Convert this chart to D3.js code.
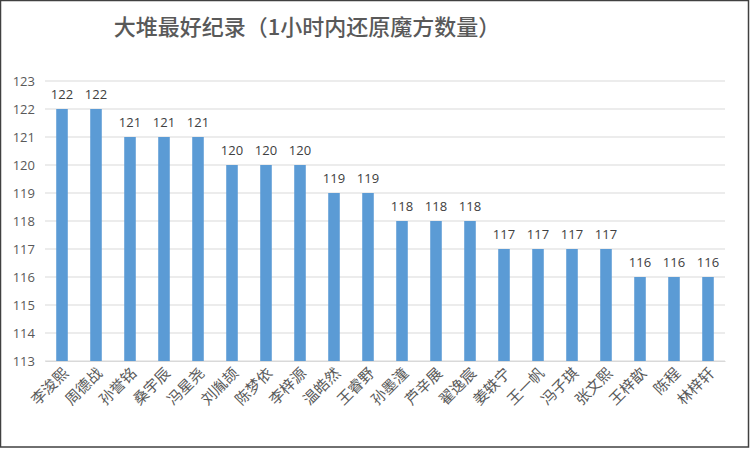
<!DOCTYPE html>
<html>
<head>
<meta charset="utf-8">
<script src="https://cdn.jsdelivr.net/npm/d3@7/dist/d3.min.js"></script>
<style>
  body { margin: 0; background: #fff; }
</style>
</head>
<body>
<div id="chart"></div>
<script>
// DATA
const names = ['李浚熙', '周德战', '孙誉铭', '桑宇辰', '冯星尧', '刘胤颉', '陈梦依', '李梓源', '温皓然', '王睿野',
  '孙墨潼', '芦辛展', '翟逸宸', '姜轶宁', '王一帆', '冯子琪', '张文熙', '王梓歆', '陈程', '林梓轩'];
const counts = [122, 122, 121, 121, 121, 120, 120, 120, 119, 119,
  118, 118, 118, 117, 117, 117, 117, 116, 116, 116];
const yTicks = [113, 114, 115, 116, 117, 118, 119, 120, 121, 122, 123];
const title = '大堆最好纪录（1小时内还原魔方数量）';

// SETTINGS
const width = 750, height = 449;
const margin = { top: 81, right: 25, bottom: 88, left: 45 };
const graphWidth = width - margin.left - margin.right;
const graphHeight = height - margin.top - margin.bottom;
const barColor = '#5b9bd5';
const gridColor = '#d9d9d9';
const textColor = '#595959';

const svg = d3.select('#chart').append('svg')
  .attr('width', width)
  .attr('height', height);

// outer border
svg.append('rect')
  .attr('x', 0.5).attr('y', 0.5)
  .attr('width', width - 2).attr('height', height - 2.5)
  .attr('fill', '#fff')
  .attr('stroke', '#404040')
  .attr('stroke-width', 1.5);

svg.append('text')
  .attr('x', 307).attr('y', 35)
  .attr('text-anchor', 'middle')
  .attr('font-family', '"Noto Sans CJK SC", sans-serif')
  .attr('font-size', 22)
  .attr('font-weight', 500)
  .attr('fill', textColor)
  .text(title);

const graph = svg.append('g')
  .attr('transform', `translate(${margin.left}, ${margin.top})`);

// SCALES
const x = d3.scaleBand().domain(names).range([0, graphWidth]).paddingInner(0.66).paddingOuter(0.33);
const y = d3.scaleLinear().domain([113, 123]).range([graphHeight, 0]);

// grid lines
graph.append('g')
  .selectAll('line')
  .data(yTicks)
  .join('line')
  .attr('x1', 0).attr('x2', graphWidth)
  .attr('y1', d => y(d)).attr('y2', d => y(d))
  .attr('stroke', gridColor)
  .attr('stroke-width', 1);

// y axis
const yAxis = d3.axisLeft(y).tickValues(yTicks).tickSize(0).tickPadding(10);
const yAxisGroup = graph.append('g').call(yAxis);
yAxisGroup.select('.domain').remove();
yAxisGroup.selectAll('text')
  .attr('font-family', '"Open Sans", sans-serif')
  .attr('font-size', 13)
  .attr('fill', textColor);

// bars
graph.selectAll('rect.bar')
  .data(counts)
  .join('rect')
  .attr('class', 'bar')
  .attr('x', (d, i) => x(names[i]))
  .attr('width', x.bandwidth())
  .attr('y', d => y(d))
  .attr('height', d => graphHeight - y(d))
  .attr('fill', barColor);

// value labels
graph.selectAll('text.value')
  .data(counts)
  .join('text')
  .attr('class', 'value')
  .attr('x', (d, i) => x(names[i]) + x.bandwidth() / 2)
  .attr('y', d => y(d) - 10)
  .attr('text-anchor', 'middle')
  .attr('font-family', '"Open Sans", sans-serif')
  .attr('font-size', 13)
  .attr('fill', '#404040')
  .text(d => d);

// x axis
const xAxis = d3.axisBottom(x).tickSize(0).tickPadding(10);
const xAxisGroup = graph.append('g')
  .attr('transform', `translate(0, ${graphHeight})`)
  .call(xAxis);
xAxisGroup.select('.domain')
  .attr('stroke', gridColor);
xAxisGroup.selectAll('text')
  .attr('font-family', '"Noto Sans CJK SC", sans-serif')
  .attr('font-size', 15)
  .attr('fill', textColor)
  .attr('text-anchor', 'end')
  .attr('dy', '0.3em')
  .attr('transform', 'translate(-3,3) rotate(-45)');
</script>
</body>
</html>
